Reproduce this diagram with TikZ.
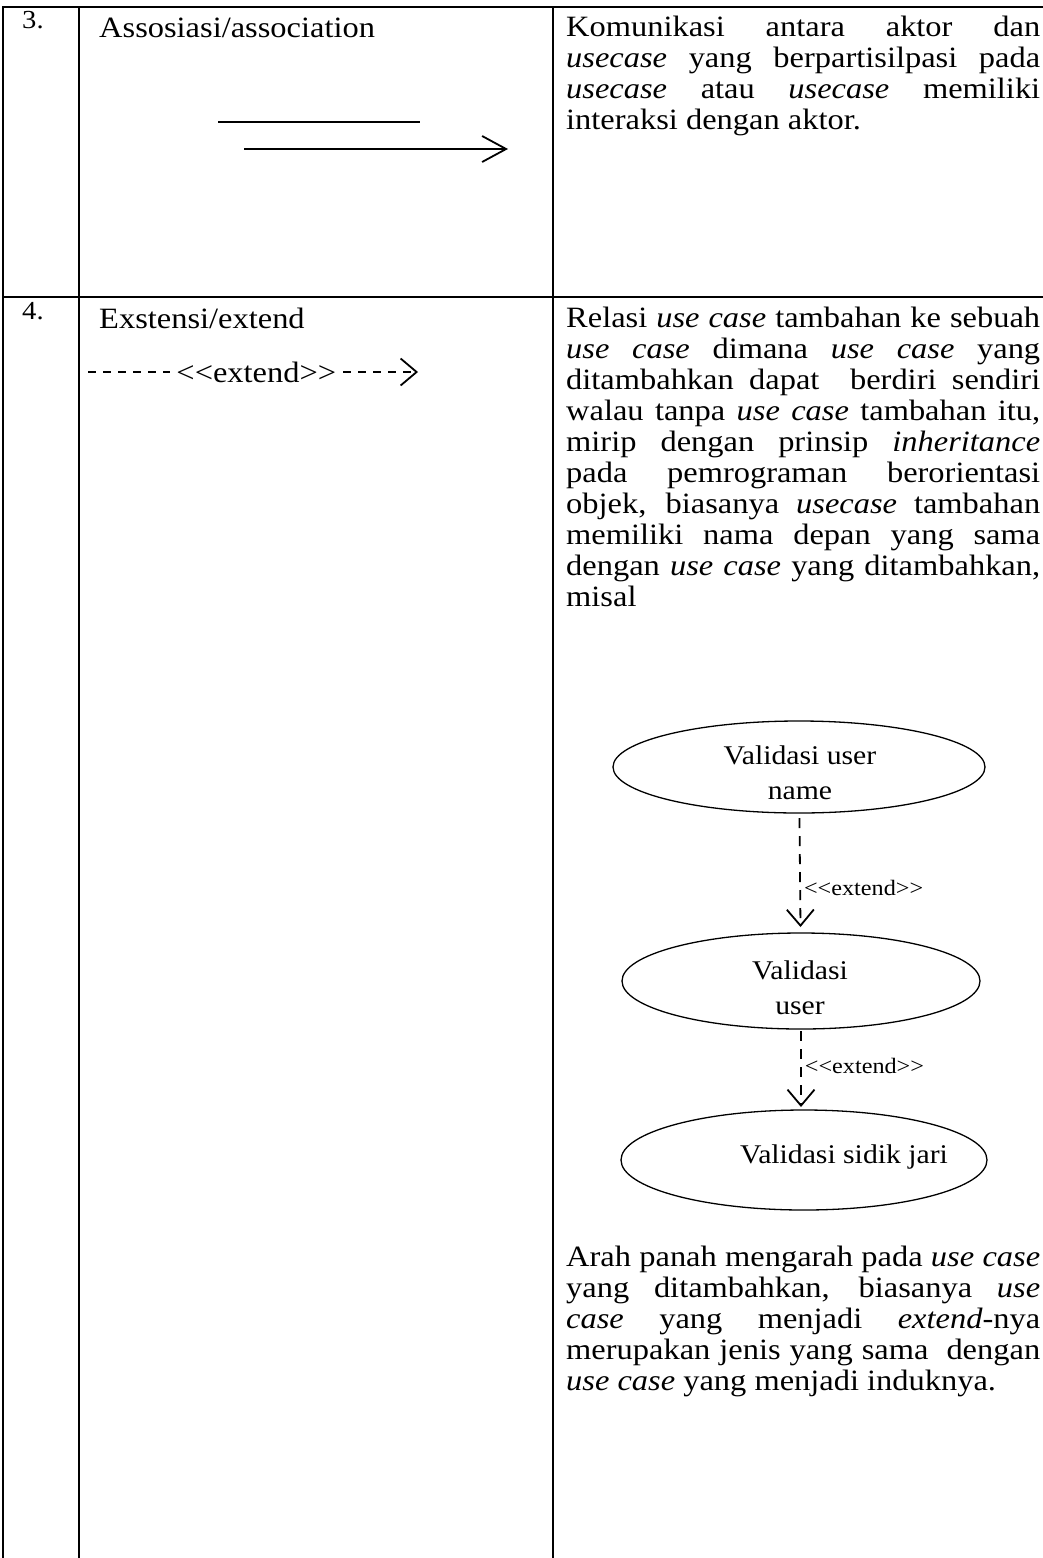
\documentclass[tikz,border=0pt]{standalone}
\usepackage{fontspec}
\setmainfont{Liberation Serif}[FakeStretch=1.1]
\usetikzlibrary{arrows.meta,shapes.geometric}

\newcommand\ucbody{\fontsize{29.5}{31}\selectfont\tolerance=10000\hyphenpenalty=10000\relax}
\newcommand\ucext{<\kern0pt<extend>\kern0pt>}

\begin{document}
\begin{tikzpicture}[
    x=1pt, y=-1pt,
    ucrule/.style={line width=1.2pt},
    ucnum/.style={anchor=base west, inner sep=0pt, font=\fontsize{26}{30}\selectfont},
    uctitle/.style={anchor=base west, inner sep=0pt, font=\ucbody},
    ucdesc/.style={anchor=north west, inner sep=0pt, text width=474pt, align=justify, font=\ucbody},
    usecase/.style={ellipse, draw, line width=1.3pt, inner sep=0pt, outer sep=0pt},
    uctext/.style={align=center, inner sep=0pt, font=\fontsize{27}{35}\selectfont},
    ucassoc/.style={line width=1.8pt, -{Straight Barb[length=24pt,width=26pt]}},
    ucextend/.style={line width=1.8pt, dash pattern=on 10pt off 8pt, -{Straight Barb[length=16pt,width=27pt]}},
    uclabel/.style={font=\fontsize{22}{25}\selectfont, inner sep=3pt}
]
\useasboundingbox (0,0) rectangle (1043,1558);

% table rules
\draw[ucrule] (3,1558) -- (3,7) -- (1043,7);
\draw[ucrule] (3,297) -- (1043,297);
\draw[ucrule] (79,7) -- (79,1558);
\draw[ucrule] (553,7) -- (553,1558);

% row 3
\node[ucnum] (num3) at (22,28) {3.};
\node[uctitle] (assoc) at (99,37) {Assosiasi/association};
\coordinate (plainA) at (218,122);
\coordinate (plainB) at (420,122);
\coordinate (arrowA) at (244,149);
\coordinate (arrowB) at (508,149);
\draw[line width=1.8pt] (plainA) -- (plainB);
\draw[ucassoc] (arrowA) -- (arrowB);
\node[ucdesc] (assocdesc) at (566,14.3) {\strut Komunikasi antara aktor dan\linebreak
\textit{usecase} yang berpartisilpasi pada\linebreak
\textit{usecase} atau \textit{usecase} memiliki\linebreak
interaksi dengan aktor.};

% row 4
\node[ucnum] (num4) at (22,319) {4.};
\node[uctitle] (ext) at (99,328) {Exstensi/extend};
\coordinate (extA) at (88,372);
\coordinate (extB) at (418,372);
\draw[ucextend, dash pattern=on 8pt off 7pt] (extA) -- node[fill=white, inner xsep=6pt, inner ysep=2pt, pos=0.51, font=\ucbody] {\ucext} (extB);
\node[ucdesc] (extdesc) at (566,305.3) {\strut Relasi \textit{use case} tambahan ke sebuah\linebreak
\textit{use case} dimana \textit{use case} yang\linebreak
ditambahkan dapat \ berdiri sendiri\linebreak
walau tanpa \textit{use case} tambahan itu,\linebreak
mirip dengan prinsip \textit{inheritance}\linebreak
pada pemrograman berorientasi\linebreak
objek, biasanya \textit{usecase} tambahan\linebreak
memiliki nama depan yang sama\linebreak
dengan \textit{use case} yang ditambahkan,\linebreak
misal};

% use case example
\node[usecase, minimum width=372pt, minimum height=92pt] (ucname) at (799,767) {};
\node[usecase, minimum width=358pt, minimum height=96pt] (ucuser) at (801,981) {};
\node[usecase, minimum width=366pt, minimum height=100pt] (ucjari) at (804,1160) {};
\node[uctext] (tname) at (800,773) {Validasi user\\name};
\node[uctext] (tuser) at (800,988) {Validasi\\user};
\node[uctext] (tjari) at (844,1157) {Validasi sidik jari};

\draw[ucextend, shorten <=5pt, shorten >=6pt] (ucname) -- node[uclabel, pos=0.625, anchor=west] {\ucext} (ucuser);
\draw[ucextend, shorten <=2pt, shorten >=3pt] (ucuser) -- node[uclabel, pos=0.46, anchor=west] {\ucext} (ucuser |- ucjari.north);

\node[ucdesc] (arahdesc) at (566,1244.3) {\strut Arah panah mengarah pada \textit{use case}\linebreak
yang ditambahkan, biasanya \textit{use}\linebreak
\textit{case} yang menjadi \textit{extend}-nya\linebreak
merupakan jenis yang sama \ dengan\linebreak
\textit{use case} yang menjadi induknya.};
\end{tikzpicture}
\end{document}
